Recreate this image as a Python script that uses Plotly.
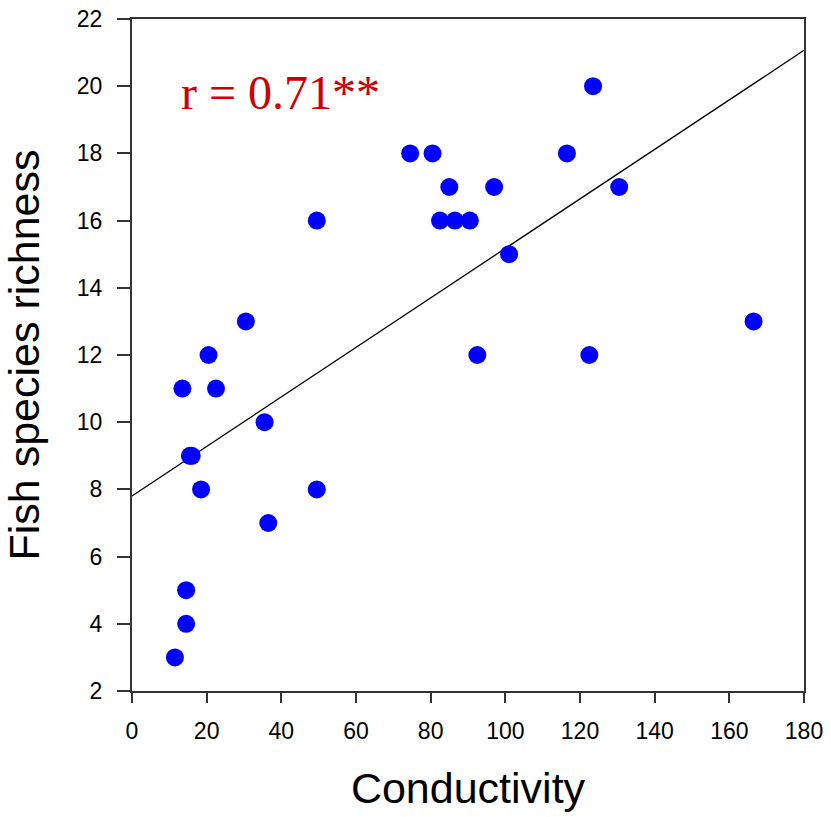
import numpy as np
import plotly.graph_objects as go

conductivity = [123.5, 74.5, 80.5, 116.5, 85, 97, 130.5, 82.5, 86.5, 90.5, 49.5, 101, 30.5, 166.5,
                20.5, 92.5, 122.5, 13.5, 22.5, 35.5, 15.5, 16, 18.5, 49.5, 36.5, 14.5, 14.5, 11.5]
richness = [20, 18, 18, 18, 17, 17, 17, 16, 16, 16, 16, 15, 13, 13,
            12, 12, 12, 11, 11, 10, 9, 9, 8, 8, 7, 5, 4, 3]

x_ticks = list(range(0, 181, 20))
y_ticks = list(range(2, 23, 2))
x_range = [0, 180]
y_range = [2, 22]

slope, intercept = np.polyfit(conductivity, richness, 1)
line_x = np.array(x_range, dtype=float)
line_y = intercept + slope * line_x

fig = go.Figure()
fig.add_trace(go.Scatter(x=line_x, y=line_y, mode="lines",
                         line=dict(color="black", width=1.3), hoverinfo="skip"))
fig.add_trace(go.Scatter(x=conductivity, y=richness, mode="markers",
                         marker=dict(color="#0000ff", size=18, line=dict(width=0))))

axis_common = dict(showline=True, linecolor="#333333", linewidth=2, mirror=True,
                   ticks="outside", tickwidth=1.5, tickcolor="#333333",
                   showgrid=False, zeroline=False, automargin=False,
                   tickfont=dict(family="Liberation Sans, Arial", size=23, color="black"))

fig.update_layout(
    width=831, height=817,
    margin=dict(l=132, r=27, t=19, b=126),
    plot_bgcolor="white", paper_bgcolor="white",
    showlegend=False,
    xaxis=dict(range=x_range, tickvals=x_ticks, ticklen=10, ticklabelstandoff=8, **axis_common,
               title=dict(text="Conductivity", standoff=30,
                          font=dict(family="Liberation Sans, Arial", size=43, color="black"))),
    yaxis=dict(range=y_range, tickvals=y_ticks, ticklen=13, ticklabelstandoff=10, **axis_common,
               title=dict(text="Fish species richness", standoff=24,
                          font=dict(family="Liberation Sans, Arial", size=43, color="black"))),
    annotations=[dict(x=12.6, y=19.8, xref="x", yref="y", xanchor="left", yanchor="middle",
                      text="r = 0.71**", showarrow=False,
                      font=dict(family="Liberation Serif, Times New Roman", size=48, color="#cc0000"))],
)

fig.write_html("out.html")
